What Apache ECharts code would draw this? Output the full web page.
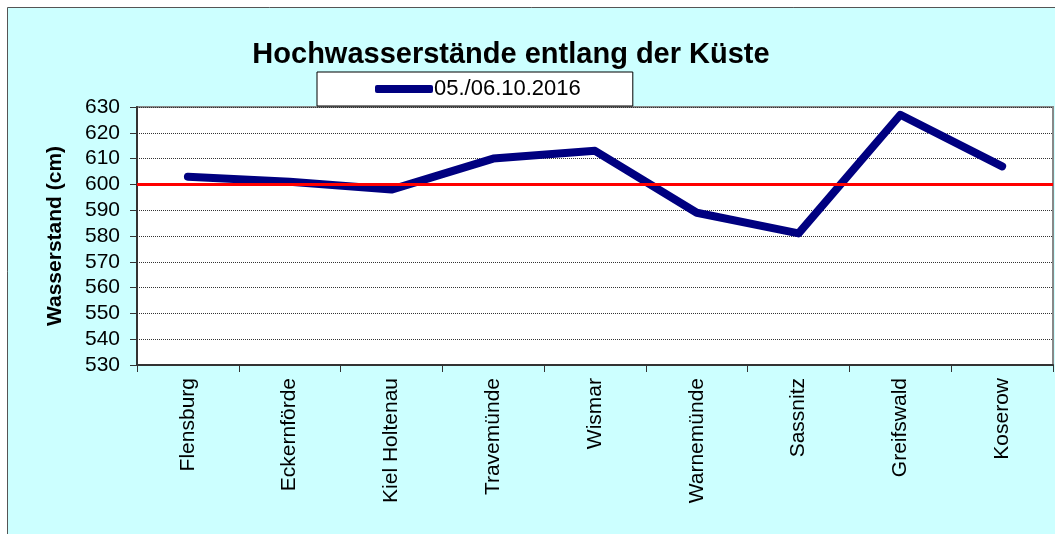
<!DOCTYPE html>
<html>
<head>
<meta charset="utf-8">
<script src="https://cdn.jsdelivr.net/npm/echarts@6/dist/echarts.min.js"></script>
<style>
	html, body { margin: 0; padding: 0; background: #fff; }
	#chart { width: 1055px; height: 534px; }
</style>
</head>
<body>
<div id="chart"></div>
<script>
// Pegel entlang der Küste
let stations = ['Flensburg', 'Eckernförde', 'Kiel Holtenau', 'Travemünde', 'Wismar', 'Warnemünde', 'Sassnitz', 'Greifswald', 'Koserow'];
let levels = [603, 601, 598, 610, 613, 589, 581, 627, 607];
let seriesName = '05./06.10.2016';
let refLevel = 600;

let myChart = echarts.init(document.getElementById('chart'));
let font = '"Liberation Sans", Arial, sans-serif';

let option = {
	animation: false,
	backgroundColor: '#fff',
	graphic: [{
		type: 'rect',
		z: -10,
		shape: { x: 7.5, y: 7.5, width: 1060, height: 540 },
		style: { fill: '#ccffff', stroke: '#555', lineWidth: 1 }
	}],
	title: {
		text: 'Hochwasserstände entlang der Küste',
		left: 506,
		top: 35,
		textAlign: 'center',
		textStyle: {
			fontFamily: font,
			fontSize: 29,
			fontWeight: 'bold',
			color: '#000'
		}
	},
	legend: {
		left: 317,
		top: 72,
		padding: [6, 52, 6, 58],
		backgroundColor: '#fff',
		borderColor: '#000',
		borderWidth: 1,
		borderRadius: 0,
		itemWidth: 58,
		itemHeight: 8,
		itemGap: 0,
		icon: 'roundRect',
		textStyle: {
			fontFamily: font,
			fontSize: 22,
			color: '#000',
			padding: [0, 0, 0, -4]
		},
		data: [seriesName]
	},
	grid: {
		left: 137,
		top: 107,
		right: 2,
		bottom: 169,
		show: true,
		backgroundColor: '#fff',
		borderColor: '#888',
		borderWidth: 2
	},
	xAxis: {
		type: 'category',
		data: stations,
		boundaryGap: true,
		axisLine: { lineStyle: { color: '#333', width: 2 } },
		axisTick: { show: true, length: 7, lineStyle: { color: '#333', width: 1 } },
		axisLabel: {
			rotate: 90,
			margin: 13,
			interval: 0,
			fontFamily: font,
			fontSize: 21,
			color: '#000'
		}
	},
	yAxis: {
		type: 'value',
		min: 530,
		max: 630,
		interval: 10,
		name: 'Wasserstand (cm)',
		nameLocation: 'middle',
		nameGap: 71,
		nameTextStyle: {
			fontFamily: font,
			fontSize: 21,
			fontWeight: 'bold',
			color: '#000'
		},
		axisLine: { show: true, lineStyle: { color: '#333', width: 2 } },
		axisTick: { show: true, length: 7, lineStyle: { color: '#333', width: 1 } },
		axisLabel: {
			margin: 17,
			fontFamily: font,
			fontSize: 21,
			color: '#000'
		},
		splitLine: {
			show: true,
			lineStyle: { color: '#333', width: 1, type: [1, 1] }
		}
	},
	series: [{
		name: seriesName,
		type: 'line',
		data: levels,
		showSymbol: false,
		symbol: 'none',
		color: '#000080',
		lineStyle: { width: 8, color: '#000080', cap: 'round', join: 'round' },
		markLine: {
			silent: true,
			symbol: ['none', 'none'],
			label: { show: false },
			lineStyle: { color: '#ff0000', width: 3, type: 'solid' },
			data: [{ yAxis: refLevel }]
		},
		z: 3
	}]
};

myChart.setOption(option);
</script>
</body>
</html>
